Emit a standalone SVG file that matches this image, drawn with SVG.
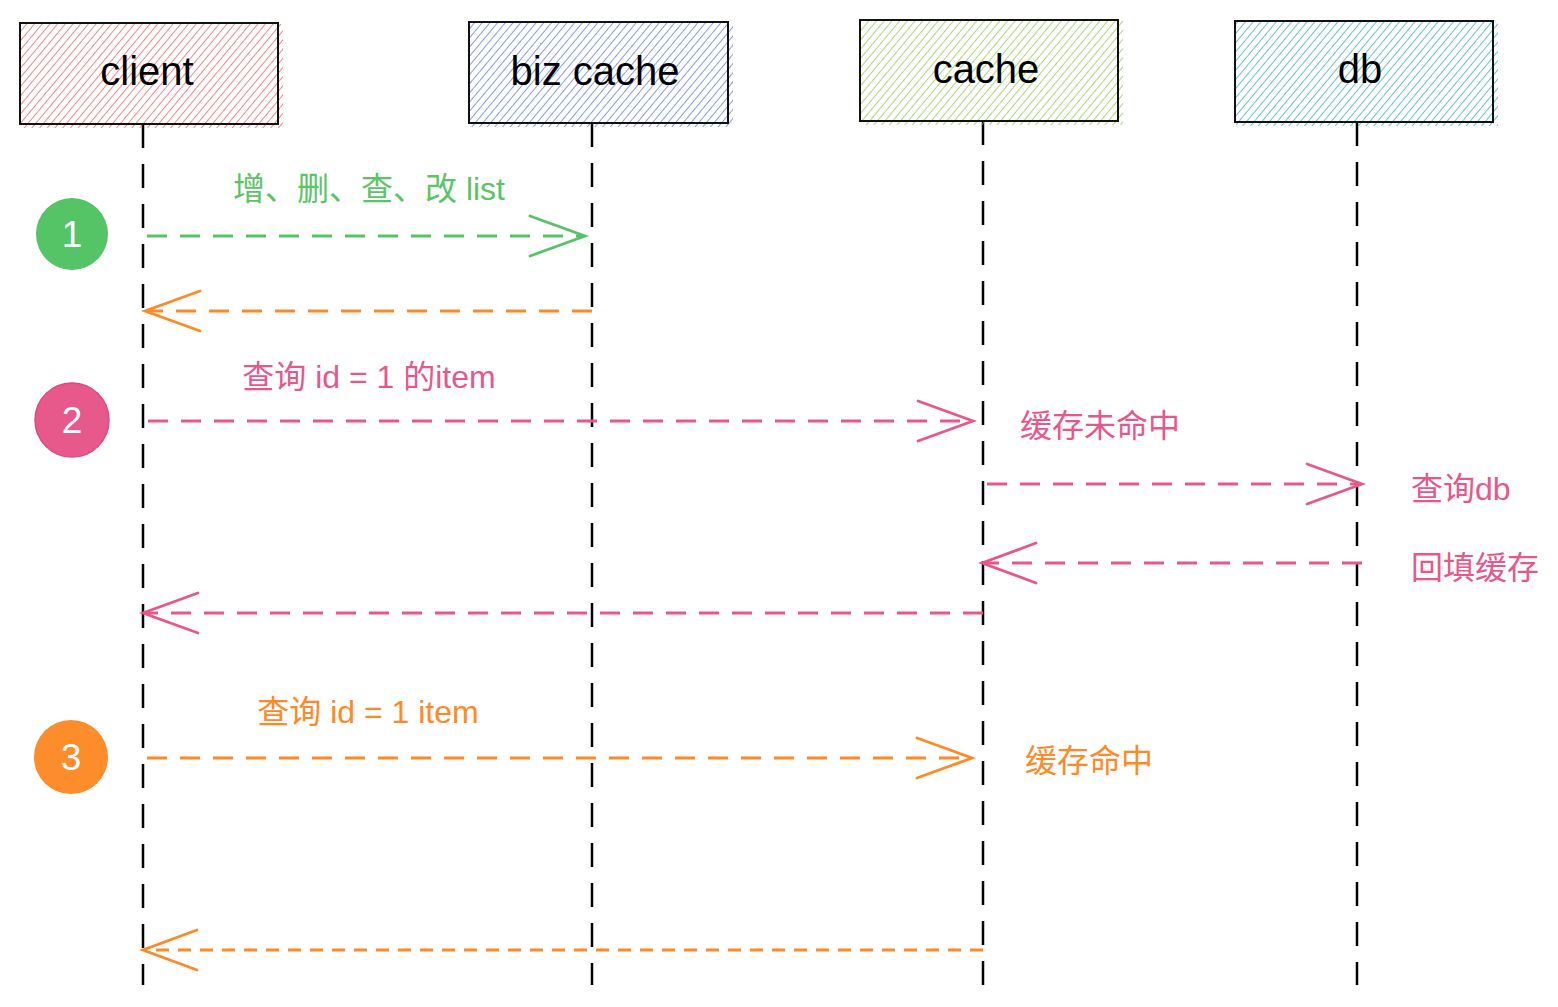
<svg xmlns="http://www.w3.org/2000/svg" width="1558" height="1007" viewBox="0 0 1558 1007">
<style>
.lbl{font-family:"Liberation Sans","Noto Sans CJK SC",sans-serif;font-size:40px;fill:#000;text-anchor:middle}
.box{fill:none;stroke:#111;stroke-width:2}
.life{stroke:#000;stroke-width:2.5;stroke-dasharray:24 16;fill:none}
.msg{font-family:"Liberation Sans","Noto Sans CJK SC",sans-serif;font-size:32px}
.num{font-family:"Liberation Sans",sans-serif;font-size:37px;fill:#fff;text-anchor:middle}
.ar{fill:none;stroke-width:2.8;stroke-dasharray:20 13}
.g{stroke:#55c466}.p{stroke:#e8578a}.o{stroke:#fd8a26}
.head{fill:none;stroke-width:2.8;stroke-linecap:round;stroke-linejoin:miter}
</style>
<defs>
<pattern id="hr" patternUnits="userSpaceOnUse" width="5.9" height="5.9" patternTransform="rotate(40)"><line x1="0" y1="0" x2="0" y2="5.9" stroke="#f04848" stroke-width="1.3"/></pattern>
<pattern id="hb" patternUnits="userSpaceOnUse" width="5.9" height="5.9" patternTransform="rotate(40)"><line x1="0" y1="0" x2="0" y2="5.9" stroke="#4a66ec" stroke-width="1.3"/></pattern>
<pattern id="hg" patternUnits="userSpaceOnUse" width="5.9" height="5.9" patternTransform="rotate(40)"><line x1="0" y1="0" x2="0" y2="5.9" stroke="#86c232" stroke-width="1.3"/></pattern>
<pattern id="ht" patternUnits="userSpaceOnUse" width="5.9" height="5.9" patternTransform="rotate(40)"><line x1="0" y1="0" x2="0" y2="5.9" stroke="#16a3bd" stroke-width="1.3"/></pattern>
</defs>

<g id="lifelines">
<line class="life" x1="143" y1="124" x2="143" y2="985"/>
<line class="life" x1="592" y1="123" x2="592" y2="985"/>
<line class="life" x1="983" y1="121" x2="983" y2="985"/>
<line class="life" x1="1357" y1="122" x2="1357" y2="985"/>
</g>

<g id="client">
<rect x="21" y="24" width="262" height="104" fill="url(#hr)"/>
<rect class="box" x="20" y="23" width="258" height="101"/>
<text class="lbl" x="147" y="85">client</text>
</g>
<g id="biz-cache">
<rect x="470" y="23" width="263" height="104" fill="url(#hb)"/>
<rect class="box" x="469" y="22" width="259" height="101"/>
<text class="lbl" x="595" y="85">biz cache</text>
</g>
<g id="cache">
<rect x="861" y="21" width="262" height="104" fill="url(#hg)"/>
<rect class="box" x="860" y="20" width="258" height="101"/>
<text class="lbl" x="986" y="83">cache</text>
</g>
<g id="db">
<rect x="1236" y="22" width="262" height="104" fill="url(#ht)"/>
<rect class="box" x="1235" y="21" width="258" height="101"/>
<text class="lbl" x="1360" y="83">db</text>
</g>

<g id="step1">
<circle cx="72" cy="234" r="36" fill="#55c466"/>
<text class="num" x="72" y="247">1</text>
</g>
<g id="step2">
<circle cx="72" cy="420" r="37" fill="#e8598b" stroke="#e04a80" stroke-width="1.5"/>
<text class="num" x="72" y="433">2</text>
</g>
<g id="step3">
<circle cx="71" cy="757" r="37" fill="#fd8c2b"/>
<text class="num" x="71" y="770">3</text>
</g>

<g id="connectors">
<line class="ar g" x1="147" y1="236" x2="582" y2="236"/>
<polyline class="head g" points="530,216 585,236 530,256"/>

<line class="ar o" x1="592" y1="311" x2="148" y2="311"/>
<polyline class="head o" points="200,291 145,311 200,331"/>

<line class="ar p" x1="148" y1="421" x2="970" y2="421"/>
<polyline class="head p" points="918,401 973,421 918,441"/>

<line class="ar p" x1="987" y1="484" x2="1359" y2="484"/>
<polyline class="head p" points="1307,464 1362,484 1307,504"/>

<line class="ar p" x1="1362" y1="563" x2="985" y2="563"/>
<polyline class="head p" points="1036,543 982,563 1036,583"/>

<line class="ar p" x1="983" y1="613" x2="146" y2="613"/>
<polyline class="head p" points="198,593 143,613 198,633"/>

<line class="ar o" x1="147" y1="758" x2="969" y2="758"/>
<polyline class="head o" points="917,738 972,758 917,778"/>

<line class="ar o" x1="983" y1="950" x2="146" y2="950" style="stroke-dasharray:13 9"/>
<polyline class="head o" points="197,930 143,950 197,970"/>
</g>

<g id="labels">
<text class="msg" x="369" y="200" fill="#5ac467" text-anchor="middle">增、删、查、改 list</text>
<text class="msg" x="369" y="388" fill="#e8578a" text-anchor="middle">查询 id = 1 的item</text>
<text class="msg" x="1020" y="437" fill="#e8578a">缓存未命中</text>
<text class="msg" x="1411" y="500" fill="#e8578a">查询db</text>
<text class="msg" x="1411" y="579" fill="#e8578a">回填缓存</text>
<text class="msg" x="368" y="723" fill="#fd8a26" text-anchor="middle">查询 id = 1 item</text>
<text class="msg" x="1025" y="772" fill="#fd8a26">缓存命中</text>
</g>
</svg>
